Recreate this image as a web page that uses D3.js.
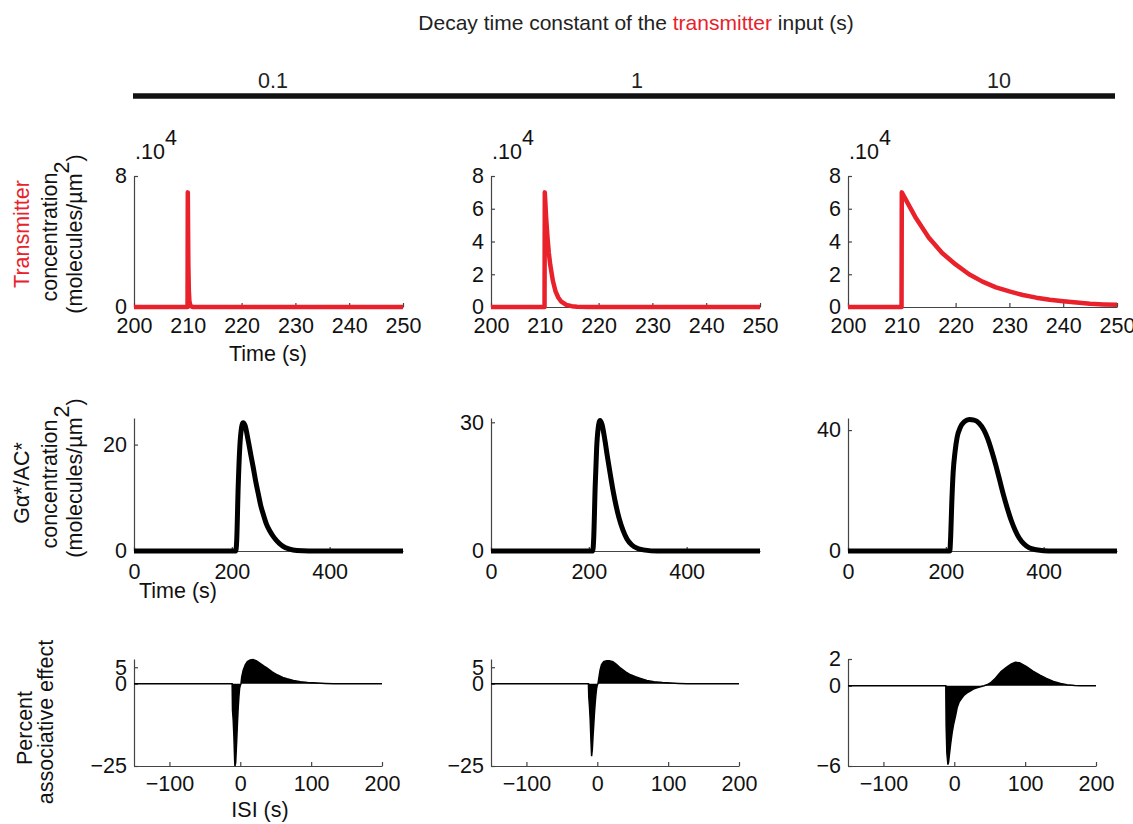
<!DOCTYPE html>
<html>
<head>
<meta charset="utf-8">
<script src="https://cdn.jsdelivr.net/npm/d3@7"></script>
<style>
  html, body { margin: 0; padding: 0; background: #fff; }
  svg { display: block; font-family: "Liberation Sans", Arial, Helvetica, sans-serif; }
</style>
</head>
<body>
<svg id="chart" width="1133" height="824"></svg>
<script>
// ---------------- DATA ----------------
const titleParts = ["Decay time constant of the ", "transmitter", " input (s)"];
const decayLabels = ["0.1", "1", "10"];

// Row 1: transmitter concentration (x10^4 molecules/µm²) vs time (s)
const transXDomain = [200, 250];
const transXTicks = [200, 210, 220, 230, 240, 250];
const transYDomain = [0, 8];
const transYTicks = [[0, 8], [0, 2, 4, 6, 8], [0, 2, 4, 6, 8]];
const trans01 = [[200,0],[209.95,0],[210,7],[210.1,2.6],[210.2,0.95],[210.3,0.35],[210.5,0.05],[211,0],[250,0]];
const trans1  = [[200,0],[209.95,0],[210,7],[210.25,5.45],[210.5,4.25],[210.75,3.3],[211,2.6],[211.5,1.6],[212,0.95],[212.5,0.58],[213,0.35],[214,0.13],[215,0.05],[216,0.02],[218,0],[250,0]];
const trans10 = [[200,0],[209.95,0],[210,7],[212.5,5.5],[215,4.25],[217.5,3.3],[220,2.6],[222.5,2.0],[225,1.55],[227.5,1.2],[230,0.95],[232.5,0.73],[235,0.57],[237.5,0.44],[240,0.35],[242.5,0.27],[245,0.2],[247.5,0.16],[250,0.13]];

// Row 2: Gα*/AC* concentration (molecules/µm²) vs time (s)
const gXDomain = [0, 550];
const gXTicks = [0, 200, 400];
const gYDomains = [[0, 25], [0, 31], [0, 44]];
const gYTicks = [[0, 20], [0, 30], [0, 40]];
const g01 = [[0,0],[208,0],[210,2],[213,12],[216,19],[219,22.6],[223,24.1],[227,23.6],[233,21],[239,18],[244,15.6],[249,13],[254,10.8],[259,8.6],[264,7],[271,5],[278,3.7],[285,2.7],[292,1.9],[300,1.2],[310,0.6],[325,0.2],[345,0.05],[370,0],[550,0]];
const g1  = [[0,0],[208,0],[210,3],[213,15],[216,24],[219,28.5],[223,30.4],[227,29.5],[232,26.5],[238,22],[244,17.8],[250,13.8],[256,10.4],[262,7.6],[270,4.8],[278,2.8],[288,1.4],[300,0.6],[315,0.2],[340,0],[550,0]];
const g10 = [[0,0],[208,0],[210,5],[212,15],[215,26],[219,33],[223,37.5],[230,41],[238,42.8],[248,43.5],[258,43.3],[268,42.3],[278,40],[286,37],[294,33],[302,28.5],[310,23.5],[318,18.5],[326,14],[334,10],[342,6.8],[350,4.3],[360,2.3],[370,1.1],[385,0.4],[400,0.1],[420,0],[550,0]];

// Row 3: percent associative effect vs ISI (s)
const isiXDomain = [-150, 200];
const isiXTicks = [-100, 0, 100, 200];
const pYDomains = [[-25, 7.5], [-25, 7.5], [-6, 2]];
const pYTicks = [[-25, 0, 5], [-25, 0, 5], [-6, 0, 2]];
const p01 = [[-150,0],[-11.5,0],[-11,-8],[-10,-11],[-9,-16],[-8,-23],[-7.5,-25],[-6.5,-24],[-5,-17],[-4,-12],[-3,-7.5],[-2,-4],[-1,-1.5],[0,-0.5],[1,0],[2,2],[4,4],[7,5.7],[10,6.7],[14,7.2],[18,7.35],[23,6.9],[28,6.2],[33,5.4],[38,4.7],[45,3.6],[52,2.7],[60,1.9],[66,1.5],[75,1.0],[85,0.6],[95,0.35],[109,0.2],[120,0.08],[132,0],[200,0]];
const p1  = [[-150,0],[-12.5,0],[-12,-4],[-11,-7],[-10,-11],[-9,-17],[-8,-22],[-7,-20],[-6,-16],[-5,-12.5],[-4,-9],[-3,-6],[-2,-3.5],[-1,-1.5],[0,-0.4],[1,0],[2,1.5],[4,4.2],[6,5.8],[9,6.7],[13,7.0],[17,7.0],[22,6.7],[27,5.9],[33,4.7],[40,3.6],[47,2.7],[54,2.1],[61,1.6],[70,1.0],[80,0.6],[92,0.35],[104,0.2],[115,0.08],[127,0],[200,0]];
const p10 = [[-150,0],[-12,0],[-11.5,-3],[-10.5,-5],[-9,-5.9],[-8,-5.7],[-7,-5.2],[-5,-4.3],[-3,-3.5],[-1,-2.9],[2,-2.2],[4,-1.65],[7,-1.2],[11,-0.9],[14,-0.7],[18,-0.54],[23,-0.38],[27,-0.25],[32,-0.15],[37,-0.08],[42,0],[46,0.07],[52,0.25],[58,0.56],[66,1.06],[74,1.4],[80,1.62],[86,1.75],[92,1.72],[102,1.43],[111,1.1],[121,0.8],[130,0.55],[140,0.32],[150,0.17],[159,0.07],[170,0.02],[178,0],[200,0]];

// ---------------- LAYOUT ----------------
const RED = "#e8212b";
const AXIS = "#444";
const FS = 21.5;
const colX = [134, 491, 848];
const rows = [
  { top: 176, bottom: 307, width: 269, pad: 11 },
  { top: 418, bottom: 551, width: 269, pad: 13 },
  { top: 659, bottom: 766, width: 248, pad: 10 }
];

const svg = d3.select("#chart");

// Title
const title = svg.append("text").attr("x", 636).attr("y", 30)
  .attr("text-anchor", "middle").attr("font-size", 21).attr("fill", "#222");
title.append("tspan").text(titleParts[0]);
title.append("tspan").attr("fill", RED).text(titleParts[1]);
title.append("tspan").text(titleParts[2]);

// Column labels and thick bar
const colLabelX = [273, 637, 999];
decayLabels.forEach((l, i) => {
  svg.append("text").attr("x", colLabelX[i]).attr("y", 88)
    .attr("text-anchor", "middle").attr("font-size", FS).attr("fill", "#222").text(l);
});
svg.append("line").attr("x1", 133).attr("x2", 1115).attr("y1", 96).attr("y2", 96)
  .attr("stroke", "#111").attr("stroke-width", 5.5);

const minusFmt = d => d < 0 ? "\u2212" + Math.abs(d) : d;

function drawAxes(g, x, y, xTicks, yTicks, pad) {
  const ax = g.append("g").attr("transform", `translate(0,${y.range()[0]})`)
    .call(d3.axisBottom(x).tickValues(xTicks).tickSizeInner(-4).tickSizeOuter(0).tickPadding(pad).tickFormat(minusFmt));
  const ay = g.append("g").attr("transform", `translate(${x.range()[0]},0)`)
    .call(d3.axisLeft(y).tickValues(yTicks).tickSizeInner(-4).tickSizeOuter(0).tickPadding(7).tickFormat(minusFmt));
  [ax, ay].forEach(a => {
    a.selectAll("path.domain").attr("stroke", AXIS).attr("stroke-width", 1.2);
    a.selectAll(".tick line").attr("stroke", AXIS).attr("stroke-width", 1.2);
    a.selectAll(".tick text").attr("font-size", FS).attr("fill", "#111")
      .attr("font-family", '"Liberation Sans", Arial, sans-serif');
  });
}

// Row 1
const transData = [trans01, trans1, trans10];
transData.forEach((data, i) => {
  const r = rows[0];
  const x = d3.scaleLinear().domain(transXDomain).range([colX[i], colX[i] + r.width]);
  const y = d3.scaleLinear().domain(transYDomain).range([r.bottom, r.top]);
  const g = svg.append("g");
  drawAxes(g, x, y, transXTicks, transYTicks[i], r.pad);
  g.append("path").datum(data)
    .attr("d", d3.line().x(d => x(d[0])).y(d => y(d[1])))
    .attr("fill", "none").attr("stroke", RED).attr("stroke-width", 4.5).attr("stroke-linejoin", "round");
  const t = g.append("text").attr("x", colX[i] + 1).attr("y", 159).attr("font-size", FS).attr("fill", "#111");
  t.append("tspan").text(".10");
  t.append("tspan").attr("dy", -14).text("4");
});

// Row 2
const gData = [g01, g1, g10];
gData.forEach((data, i) => {
  const r = rows[1];
  const x = d3.scaleLinear().domain(gXDomain).range([colX[i], colX[i] + r.width]);
  const y = d3.scaleLinear().domain(gYDomains[i]).range([r.bottom, r.top]);
  const g = svg.append("g");
  drawAxes(g, x, y, gXTicks, gYTicks[i], r.pad);
  g.append("path").datum(data)
    .attr("d", d3.line().curve(d3.curveMonotoneX).x(d => x(d[0])).y(d => y(d[1])))
    .attr("fill", "none").attr("stroke", "#000").attr("stroke-width", 5).attr("stroke-linejoin", "round");
});

// Row 3
const pData = [p01, p1, p10];
pData.forEach((data, i) => {
  const r = rows[2];
  const x = d3.scaleLinear().domain(isiXDomain).range([colX[i], colX[i] + r.width]);
  const y = d3.scaleLinear().domain(pYDomains[i]).range([r.bottom, r.top]);
  const g = svg.append("g");
  drawAxes(g, x, y, isiXTicks, pYTicks[i], r.pad);
  g.append("path").datum(data)
    .attr("d", d3.area().x(d => x(d[0])).y0(y(0)).y1(d => y(d[1])))
    .attr("fill", "#000");
  g.append("path").datum(data)
    .attr("d", d3.line().x(d => x(d[0])).y(d => y(d[1])))
    .attr("fill", "none").attr("stroke", "#000").attr("stroke-width", 1.5);
});

// Axis titles (x)
function label(x, y, txt) {
  svg.append("text").attr("x", x).attr("y", y).attr("text-anchor", "middle")
    .attr("dominant-baseline", "central").attr("font-size", FS).attr("fill", "#111").text(txt);
}
label(268, 354, "Time (s)");
label(178, 591, "Time (s)");
label(260, 810, "ISI (s)");

// Rotated y labels
function vlabel(cx, cy, parts) {
  const t = svg.append("text").attr("transform", `translate(${cx},${cy}) rotate(-90)`)
    .attr("text-anchor", "middle").attr("dominant-baseline", "central").attr("font-size", FS).attr("fill", "#111");
  parts.forEach(p => {
    const s = t.append("tspan").text(p.t);
    if (p.fill) s.attr("fill", p.fill);
    if (p.dy) s.attr("dy", p.dy);
  });
}
vlabel(22, 234, [{ t: "Transmitter", fill: RED }]);
vlabel(50, 237, [{ t: "concentration" }]);
vlabel(75, 234, [{ t: "(molecules/\u00b5m" }, { t: "2", dy: -13 }, { t: ")", dy: 13 }]);

vlabel(22, 483, [{ t: "G\u03b1*/AC*" }]);
vlabel(50, 484, [{ t: "concentration" }]);
vlabel(75, 478, [{ t: "(molecules/\u00b5m" }, { t: "2", dy: -13 }, { t: ")", dy: 13 }]);

vlabel(25, 728, [{ t: "Percent" }]);
vlabel(46, 722, [{ t: "associative effect" }]);
</script>
</body>
</html>
